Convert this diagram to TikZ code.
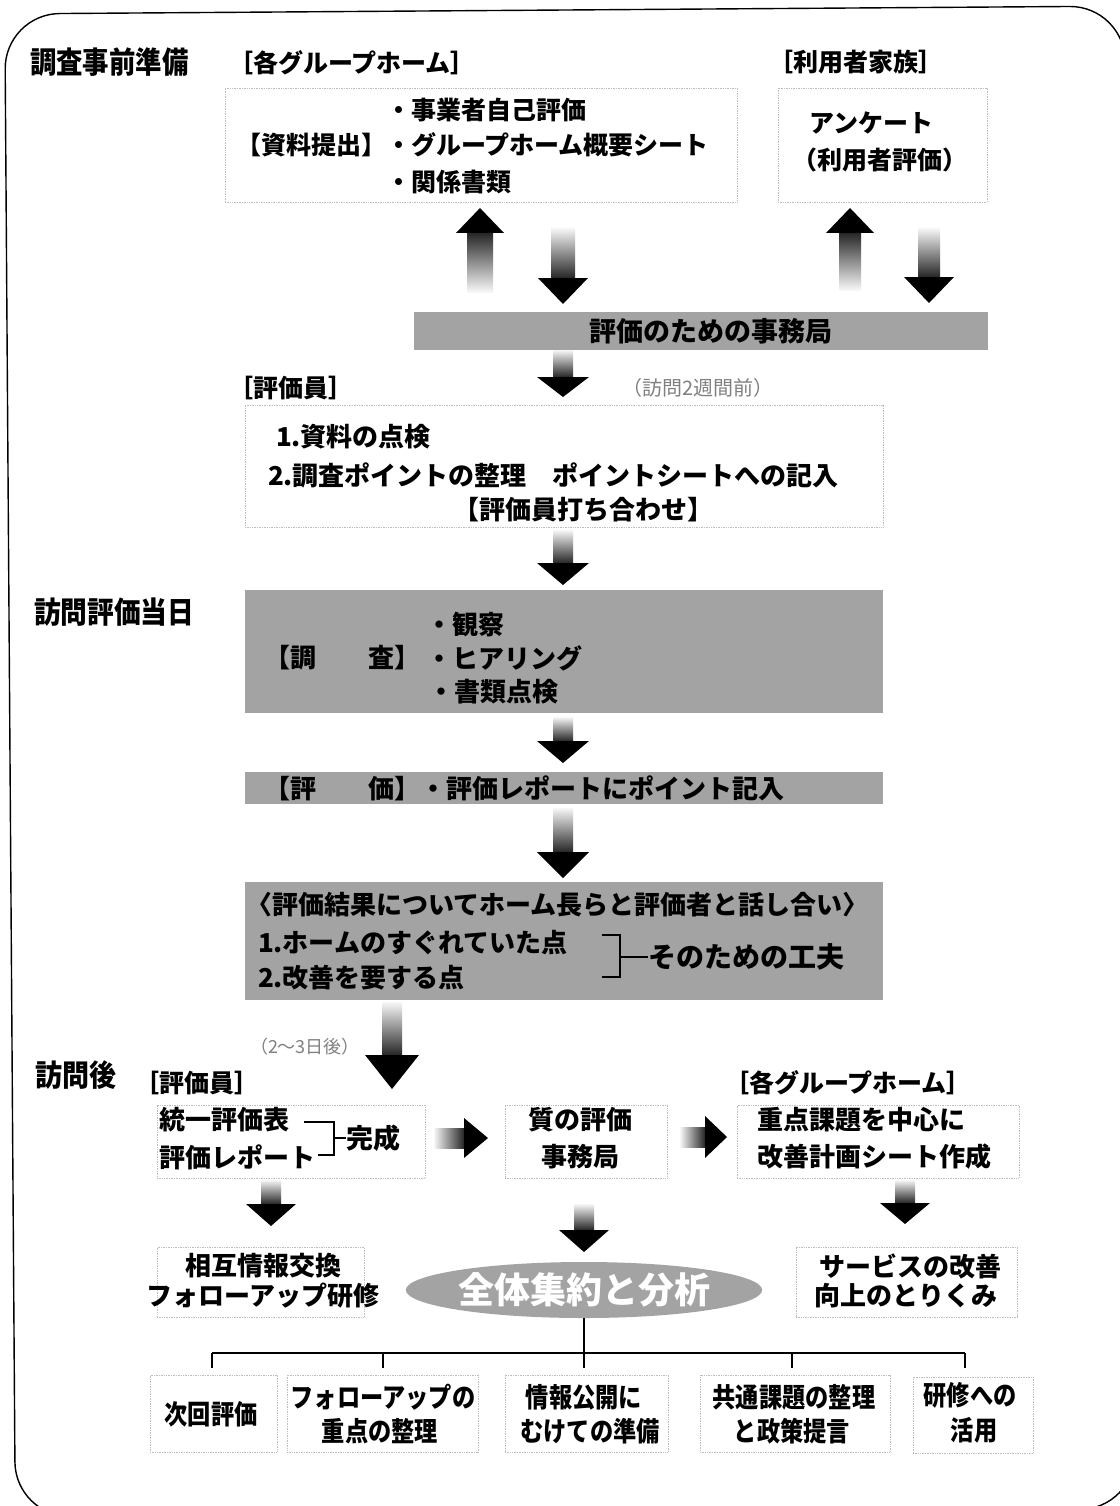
\documentclass[tikz,border=0pt]{standalone}
\usepackage{fontspec}
\setmainfont{Noto Sans CJK JP}
\usepackage{graphicx}
\usetikzlibrary{shapes.geometric,calc}
\definecolor{boxgrey}{gray}{0.64}
\definecolor{dotgrey}{gray}{0.74}
\definecolor{notegrey}{gray}{0.5}
\newcommand{\narrowtext}[2][0.86]{\scalebox{#1}[1]{#2}}
% block arrows: #1 tail, #2 tip, #3 shaft half width, #4 head half width, #5 head length
\newcommand{\downarr}[5]{%
  \shade[top color=gray!6, bottom color=black!85] let \p1=(#1),\p2=(#2) in (\x1-#3,\y1) rectangle (\x1+#3,\y2+#5);
  \fill let \p1=(#1),\p2=(#2) in (\x1-#4,\y2+#5) -- (\x1+#4,\y2+#5) -- (\x1,\y2) -- cycle;}
\newcommand{\uparr}[5]{%
  \shade[bottom color=gray!6, top color=black!85] let \p1=(#1),\p2=(#2) in (\x1-#3,\y1) rectangle (\x1+#3,\y2-#5);
  \fill let \p1=(#1),\p2=(#2) in (\x1-#4,\y2-#5) -- (\x1+#4,\y2-#5) -- (\x1,\y2) -- cycle;}
\newcommand{\rightarr}[5]{%
  \shade[left color=gray!6, right color=black!85] let \p1=(#1),\p2=(#2) in (\x1,\y1-#3) rectangle (\x2-#5,\y1+#3);
  \fill let \p1=(#1),\p2=(#2) in (\x2-#5,\y1-#4) -- (\x2-#5,\y1+#4) -- (\x2,\y1) -- cycle;}
\begin{document}
\begin{tikzpicture}[x=1pt,y=-1pt,
  every node/.style={inner sep=0pt,outer sep=0pt},
  jt/.style={font=\fontsize{#1}{#1}\selectfont\bfseries}, jt/.default=26,
  ttl/.style={font=\fontsize{30}{30}\selectfont\bfseries},
  note/.style={font=\fontsize{#1}{#1}\selectfont, text=notegrey},
  dotbox/.style={draw=dotgrey, densely dotted, line width=0.7pt},
  greybox/.style={fill=boxgrey, draw=none},
  brk/.style={line width=2.2pt},
  tree/.style={line width=1.3pt}]
\useasboundingbox (0,0) rectangle (1119,1506);
\fill[white] (0,0) rectangle (1119,1506);
% outer frame
\draw[line width=1.4pt, rounded corners=55pt, rotate around={0.4:(565,758)}] (10,10) rectangle (1130,1513);

% ---------- section 1 ----------
\node[ttl, anchor=west] (sec1) at (30,62) {\narrowtext[0.88]{調査事前準備}};
\node[jt=25, anchor=west] (lbgh) at (228,63) {［各グループホーム］};
\node[jt=25, anchor=west] (lbfam) at (768,62) {［利用者家族］};

\node[dotbox, minimum width=512pt, minimum height=114pt] (b1) at (481,145) {};
\node[jt=25, anchor=west] (b1l1) at (386,110) {・事業者自己評価};
\node[jt=25, anchor=west] (b1l2) at (236,145) {【資料提出】・グループホーム概要シート};
\node[jt=25, anchor=west] (b1l3) at (386,182) {・関係書類};

\node[dotbox, minimum width=209pt, minimum height=114pt] (b2) at (882.5,145) {};
\node[jt=25] (b2l1) at (871,123) {アンケート};
\node[jt=25] (b2l2) at (880,160) {（利用者評価）};

\coordinate (a1t) at (480,292); \coordinate (a1h) at (480,208);
\uparr{a1t}{a1h}{13pt}{24pt}{25pt}
\coordinate (a2t) at (563,228); \coordinate (a2h) at (563,304);
\downarr{a2t}{a2h}{12pt}{25pt}{26pt}
\coordinate (a3t) at (850,290); \coordinate (a3h) at (850,208);
\uparr{a3t}{a3h}{11pt}{24pt}{25pt}
\coordinate (a4t) at (929,228); \coordinate (a4h) at (929,303);
\downarr{a4t}{a4h}{11pt}{25pt}{26pt}

\node[greybox, minimum width=574pt, minimum height=38pt] (bar1) at (701,331) {};
\node[jt=27] (bar1t) at (711,331) {評価のための事務局};

\coordinate (a5t) at (563,350); \coordinate (a5h) at (563,397);
\downarr{a5t}{a5h}{10pt}{26pt}{20pt}

\node[jt=25, anchor=west] (lbev1) at (228,388) {［評価員］};
\node[note=20, anchor=west] (nt1) at (622,388) {（訪問2週間前）};

\node[dotbox, minimum width=638pt, minimum height=122pt] (b3) at (564,466) {};
\node[jt=26, anchor=west] (b3l1) at (276,437) {1.資料の点検};
\node[jt=26, anchor=west] (b3l2) at (268,475) {2.調査ポイントの整理　ポイントシートへの記入};
\node[jt=26] (b3l3) at (583,510) {【評価員打ち合わせ】};

\coordinate (a6t) at (563,530); \coordinate (a6h) at (563,585);
\downarr{a6t}{a6h}{10pt}{26pt}{22pt}

% ---------- section 2 ----------
\node[ttl, anchor=west] (sec2) at (34,612) {\narrowtext[0.89]{訪問評価当日}};

\node[greybox, minimum width=638pt, minimum height=123pt] (b4) at (564,651.5) {};
\node[jt=26, anchor=west] (b4a) at (264,658) {【調　　査】};
\node[jt=26, anchor=west] (b4b) at (426,625) {・観察};
\node[jt=26, anchor=west] (b4c) at (426,658) {・ヒアリング};
\node[jt=26, anchor=west] (b4d) at (428,692) {・書類点検};

\coordinate (a7t) at (563,717); \coordinate (a7h) at (563,763);
\downarr{a7t}{a7h}{10pt}{26pt}{22pt}

\node[greybox, minimum width=638pt, minimum height=32pt] (bar2) at (564,788) {};
\node[jt=26, anchor=west] (bar2t) at (264,788) {【評　　価】・評価レポートにポイント記入};

\coordinate (a8t) at (563,808); \coordinate (a8h) at (563,878);
\downarr{a8t}{a8h}{10pt}{26pt}{26pt}

\node[greybox, minimum width=638pt, minimum height=118pt] (b5) at (564,941) {};
\node[jt=26, anchor=west] (b5l1) at (246,905) {〈評価結果についてホーム長らと評価者と話し合い〉};
\node[jt=26, anchor=west] (b5l2) at (258,943) {1.ホームのすぐれていた点};
\node[jt=26, anchor=west] (b5l3) at (258,978) {2.改善を要する点};
\coordinate (bk1a) at (602,935); \coordinate (bk1b) at (620,935);
\coordinate (bk1c) at (620,977); \coordinate (bk1d) at (602,977);
\coordinate (bk1m) at (620,957); \coordinate (bk1e) at (648,957);
\draw[brk] (bk1a) -- (bk1b) -- (bk1c) -- (bk1d);
\draw[brk] (bk1m) -- (bk1e);
\node[jt=28, anchor=west] (b5r) at (bk1e) {そのための工夫};

\coordinate (a9t) at (392,1002); \coordinate (a9h) at (392,1089);
\downarr{a9t}{a9h}{10pt}{27pt}{34pt}
\node[note=18, anchor=west] (nt2) at (250,1047) {（2〜3日後）};

% ---------- section 3 ----------
\node[ttl, anchor=west] (sec3) at (35,1075) {\narrowtext[0.9]{訪問後}};
\node[jt=25, anchor=west] (lbev2) at (134,1083) {［評価員］};
\node[jt=25, anchor=west] (lbgh2) at (724,1083) {［各グループホーム］};

\node[dotbox, minimum width=268pt, minimum height=73pt] (c1) at (291,1141.5) {};
\node[jt=26, anchor=west] (c1l1) at (159,1120) {統一評価表};
\node[jt=26, anchor=west] (c1l2) at (159,1157) {評価レポート};
\coordinate (bk2a) at (304,1122); \coordinate (bk2b) at (334,1122);
\coordinate (bk2c) at (334,1155); \coordinate (bk2d) at (318,1155);
\coordinate (bk2m) at (334,1138); \coordinate (bk2e) at (346,1138);
\draw[brk, line width=1.8pt] (bk2a) -- (bk2b) -- (bk2c) -- (bk2d);
\draw[brk, line width=1.8pt] (bk2m) -- (bk2e);
\node[jt=27, anchor=west] (c1r) at (bk2e) {完成};

\coordinate (a10t) at (434,1138); \coordinate (a10h) at (488,1138);
\rightarr{a10t}{a10h}{10pt}{20pt}{24pt}

\node[dotbox, minimum width=162pt, minimum height=73pt] (c2) at (586,1141.5) {};
\node[jt=26] (c2l1) at (580,1120) {質の評価};
\node[jt=26] (c2l2) at (580,1157) {事務局};

\coordinate (a12t) at (680,1137); \coordinate (a12h) at (727,1137);
\rightarr{a12t}{a12h}{10pt}{21pt}{22pt}

\node[dotbox, minimum width=282pt, minimum height=73pt] (c3) at (878,1141.5) {};
\node[jt=26, anchor=west] (c3l1) at (757,1120) {重点課題を中心に};
\node[jt=26, anchor=west] (c3l2) at (757,1157) {改善計画シート作成};

\coordinate (a11t) at (271,1180); \coordinate (a11h) at (271,1226);
\downarr{a11t}{a11h}{10pt}{25pt}{22pt}
\coordinate (a14t) at (584,1204); \coordinate (a14h) at (584,1252);
\downarr{a14t}{a14h}{10pt}{25pt}{22pt}
\coordinate (a13t) at (905,1180); \coordinate (a13h) at (905,1224);
\downarr{a13t}{a13h}{10pt}{25pt}{21pt}

\node[dotbox, minimum width=207pt, minimum height=70pt] (d1) at (260.5,1282) {};
\node[jt=26] (d1l1) at (263,1266) {相互情報交換};
\node[jt=26] (d1l2) at (263,1296) {フォローアップ研修};

\node[ellipse, fill=boxgrey, minimum width=320pt, minimum height=56pt, jt=36, text=white] (ell) at (584,1290) {全体集約と分析};

\node[dotbox, minimum width=221pt, minimum height=70pt] (d3) at (906.5,1282) {};
\node[jt=26] (d3l1) at (910,1266) {サービスの改善};
\node[jt=26] (d3l2) at (906,1296) {向上のとりくみ};

% tree
\coordinate (trmid) at (584,1353);
\coordinate (trL) at (212,1353);
\coordinate (trR) at (965,1353);
\draw[tree] (ell.south) -- (trmid);
\draw[tree] (trL) -- (trR);
\foreach \xx/\nm in {212/e1,383/e2,584/e3,792/e4,965/e5}{
  \coordinate (top\nm) at (\xx,1353);
  \coordinate (bot\nm) at (\xx,1368);
  \draw[tree] (top\nm) -- (bot\nm);
}

% bottom labels
\node[dotbox, minimum width=127pt, minimum height=77pt] (e1) at (213.5,1413.5) {};
\node[dotbox, minimum width=191pt, minimum height=77pt] (e2) at (382.5,1413.5) {};
\node[dotbox, minimum width=163pt, minimum height=77pt] (e3) at (586.5,1413.5) {};
\node[dotbox, minimum width=190pt, minimum height=77pt] (e4) at (795,1413.5) {};
\node[dotbox, minimum width=120pt, minimum height=76pt] (e5) at (973,1415) {};

\node[jt=27] (e1t) at (211,1414) {\narrowtext{次回評価}};
\node[jt=27] (e2a) at (383,1397) {\narrowtext{フォローアップの}};
\node[jt=27] (e2b) at (380,1431) {\narrowtext{重点の整理}};
\node[jt=27] (e3a) at (584,1397) {\narrowtext{情報公開に}};
\node[jt=27] (e3b) at (590,1431) {\narrowtext{むけての準備}};
\node[jt=27] (e4a) at (794,1397) {\narrowtext{共通課題の整理}};
\node[jt=27] (e4b) at (792,1431) {\narrowtext{と政策提言}};
\node[jt=27] (e5a) at (970,1395) {\narrowtext{研修への}};
\node[jt=27] (e5b) at (974,1430) {\narrowtext{活用}};
\end{tikzpicture}
\end{document}
